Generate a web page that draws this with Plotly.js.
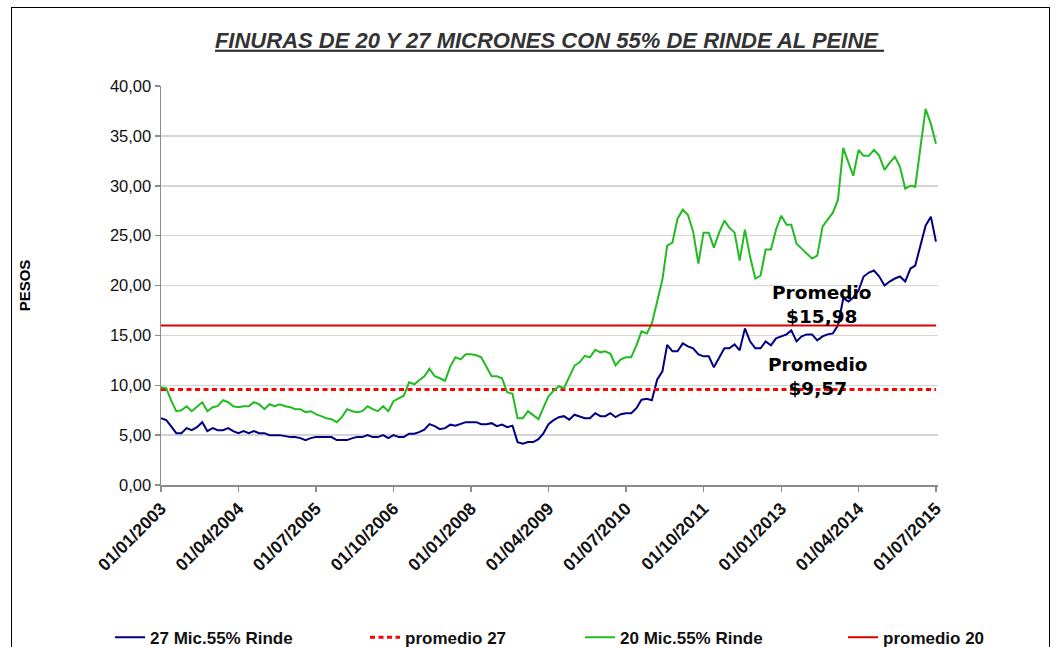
<!DOCTYPE html>
<html>
<head>
<meta charset="utf-8">
<script src="https://cdn.plot.ly/plotly-3.0.1.min.js"></script>
<style>
  html, body { margin: 0; padding: 0; background: #fff; }
  #wrap { position: relative; width: 1056px; height: 647px; overflow: hidden; }
  #chart { width: 1056px; height: 647px; }
  #frame { position: absolute; left: 11px; top: 7px; width: 1037px; height: 700px;
           border: 1.5px solid #000; pointer-events: none; }
</style>
</head>
<body>
<div id="wrap"><div id="chart"></div><div id="frame"></div></div>
<script>
// ---- data (monthly, starting January 2003) ----
var startYear = 2003, startMonth = 1;
var mic27 = [6.7,6.5,5.9,5.2,5.2,5.7,5.5,5.8,6.3,5.4,5.7,5.5,5.5,5.7,5.4,5.2,5.4,5.2,5.4,5.2,
  5.2,5.0,5.0,5.0,4.9,4.8,4.8,4.7,4.5,4.7,4.8,4.8,4.8,4.8,4.5,4.5,4.5,4.7,4.8,4.8,
  5.0,4.8,4.8,5.0,4.7,5.0,4.8,4.8,5.15,5.15,5.3,5.55,6.1,5.9,5.6,5.7,6.05,5.95,6.1,6.3,
  6.3,6.3,6.1,6.1,6.2,5.9,6.05,5.8,5.95,4.3,4.15,4.3,4.3,4.6,5.15,6.1,6.5,6.8,6.9,6.55,
  7.05,6.9,6.7,6.7,7.2,6.9,6.9,7.2,6.8,7.1,7.2,7.2,7.7,8.55,8.65,8.5,10.55,11.4,14.05,13.4,
  13.4,14.2,13.9,13.7,13.1,12.9,12.9,11.8,12.7,13.7,13.7,14.1,13.5,15.7,14.4,13.7,13.7,14.4,14.0,14.7,
  14.9,15.1,15.5,14.4,14.9,15.1,15.1,14.5,14.9,15.1,15.2,16.0,18.7,18.4,18.8,19.5,20.9,21.3,21.5,20.9,
  20.0,20.4,20.7,20.9,20.4,21.7,22.0,24.0,26.0,26.9,24.4];
var mic20 = [9.8,9.7,8.5,7.4,7.5,7.9,7.4,7.9,8.3,7.4,7.8,7.9,8.5,8.3,7.9,7.8,7.9,7.9,8.3,8.1,
  7.6,8.1,7.9,8.1,7.9,7.8,7.6,7.6,7.3,7.4,7.1,6.9,6.7,6.6,6.3,6.8,7.6,7.4,7.3,7.4,
  7.9,7.6,7.4,7.9,7.4,8.4,8.7,8.95,10.3,10.1,10.5,10.9,11.65,10.9,10.7,10.45,11.9,12.8,12.6,13.1,
  13.1,13.0,12.8,11.9,10.9,10.9,10.7,9.3,9.15,6.7,6.7,7.4,6.95,6.6,7.7,8.9,9.45,9.9,9.7,10.9,
  11.95,12.3,12.95,12.8,13.55,13.3,13.4,13.15,12.0,12.6,12.8,12.8,14.0,15.4,15.2,16.2,18.45,20.6,24.0,24.3,
  26.7,27.6,27.1,25.4,22.2,25.3,25.3,23.8,25.3,26.5,25.8,25.3,22.5,25.6,22.9,20.7,21.0,23.6,23.6,25.6,
  27.0,26.1,26.1,24.2,23.7,23.2,22.7,23.0,25.9,26.6,27.3,28.6,33.8,32.3,31.0,33.6,33.0,33.0,33.6,33.0,
  31.6,32.3,32.9,31.9,29.7,30.0,29.9,33.9,37.7,36.2,34.2];
var promedio27 = 9.57;
var promedio20 = 15.98;
var seriesNames = ['27 Mic.55% Rinde', 'promedio 27', '20 Mic.55% Rinde', 'promedio 20'];
var labelProm27 = 'Promedio<br>$9,57';
var labelProm20 = 'Promedio<br>$15,98';
var labelDate20 = '2013-08-28', labelY20 = 18.1;
var labelDate27 = '2013-08-07', labelY27 = 10.9;

function pad(n){ return (n < 10 ? '0' : '') + n; }
var dates = mic27.map(function(_, i){
  var m = startMonth - 1 + i;
  return (startYear + Math.floor(m / 12)) + '-' + pad(m % 12 + 1) + '-01';
});
var firstDate = dates[0], lastDate = dates[dates.length - 1];

var traces = [
  { x: dates, y: mic27, name: seriesNames[0], type: 'scatter', mode: 'lines', legend: 'legend',
    line: { color: '#000080', width: 2 } },
  { x: [firstDate, lastDate], y: [promedio27, promedio27], name: seriesNames[1], type: 'scatter', mode: 'lines',
    legend: 'legend2', line: { color: '#ff0000', width: 3, dash: '5px,3.5px' } },
  { x: dates, y: mic20, name: seriesNames[2], type: 'scatter', mode: 'lines', legend: 'legend3',
    line: { color: '#22bb22', width: 2 } },
  { x: [firstDate, lastDate], y: [promedio20, promedio20], name: seriesNames[3], type: 'scatter', mode: 'lines',
    legend: 'legend4', line: { color: '#dd0000', width: 2 } }
];

var legFont = { family: 'Liberation Sans, Arial, sans-serif', size: 17, color: '#111', weight: 'bold' };
function leg(px) {
  return { orientation: 'h', x: (px - 161) / 777, xanchor: 'left', y: -0.383, yanchor: 'middle',
           font: legFont, bgcolor: 'rgba(0,0,0,0)' };
}

var annFont = { family: 'DejaVu Sans, Verdana, sans-serif', size: 18.5, color: '#000', weight: 'bold' };
var layout = {
  width: 1056, height: 647,
  margin: { l: 161, r: 118, t: 86, b: 162, autoexpand: false },
  paper_bgcolor: '#fff', plot_bgcolor: '#fff',
  separators: ',.',
  showlegend: true,
  title: {
    text: '<b><i><u>FINURAS DE 20 Y 27 MICRONES CON 55% DE RINDE AL PEINE\u00a0</u></i></b>',
    font: { family: 'Liberation Sans, Arial, sans-serif', size: 22, color: '#333' },
    x: 0.5, xref: 'paper', xanchor: 'center',
    y: 1 - 40 / 647, yref: 'container', yanchor: 'middle'
  },
  xaxis: {
    type: 'date',
    range: ['2003-01-01', '2015-07-13'],
    tick0: '2003-01-01', dtick: 'M15', tickformat: '%d/%m/%Y',
    tickangle: -45,
    tickfont: { family: 'Liberation Sans, Arial, sans-serif', size: 17.5, color: '#111', weight: 'bold' },
    showline: true, linecolor: '#8c8c8c', linewidth: 1.5,
    ticks: 'outside', ticklen: 5, tickcolor: '#8c8c8c', tickwidth: 1.5,
    showgrid: false, zeroline: false, fixedrange: true
  },
  yaxis: {
    range: [0, 40], dtick: 5, tick0: 0, tickformat: '.2f',
    tickfont: { family: 'Liberation Sans, Arial, sans-serif', size: 16.5, color: '#111' },
    showline: true, linecolor: '#8c8c8c', linewidth: 1.5,
    ticks: 'outside', ticklen: 5, tickcolor: '#8c8c8c', tickwidth: 1.5,
    showgrid: true, gridcolor: '#d4d4d4', gridwidth: 1.5,
    zeroline: false, fixedrange: true,
    title: { text: '<b>PESOS</b>', font: { family: 'Liberation Sans, Arial, sans-serif', size: 15, color: '#000' }, standoff: 75 }
  },
  legend: leg(110),
  legend2: leg(365),
  legend3: leg(580),
  legend4: leg(843),
  annotations: [
    { x: labelDate20, y: labelY20, xref: 'x', yref: 'y', text: labelProm20, showarrow: false,
      font: annFont, align: 'center' },
    { x: labelDate27, y: labelY27, xref: 'x', yref: 'y', text: labelProm27, showarrow: false,
      font: annFont, align: 'center' }
  ]
};

Plotly.newPlot('chart', traces, layout, { staticPlot: true, displayModeBar: false });
</script>
</body>
</html>
